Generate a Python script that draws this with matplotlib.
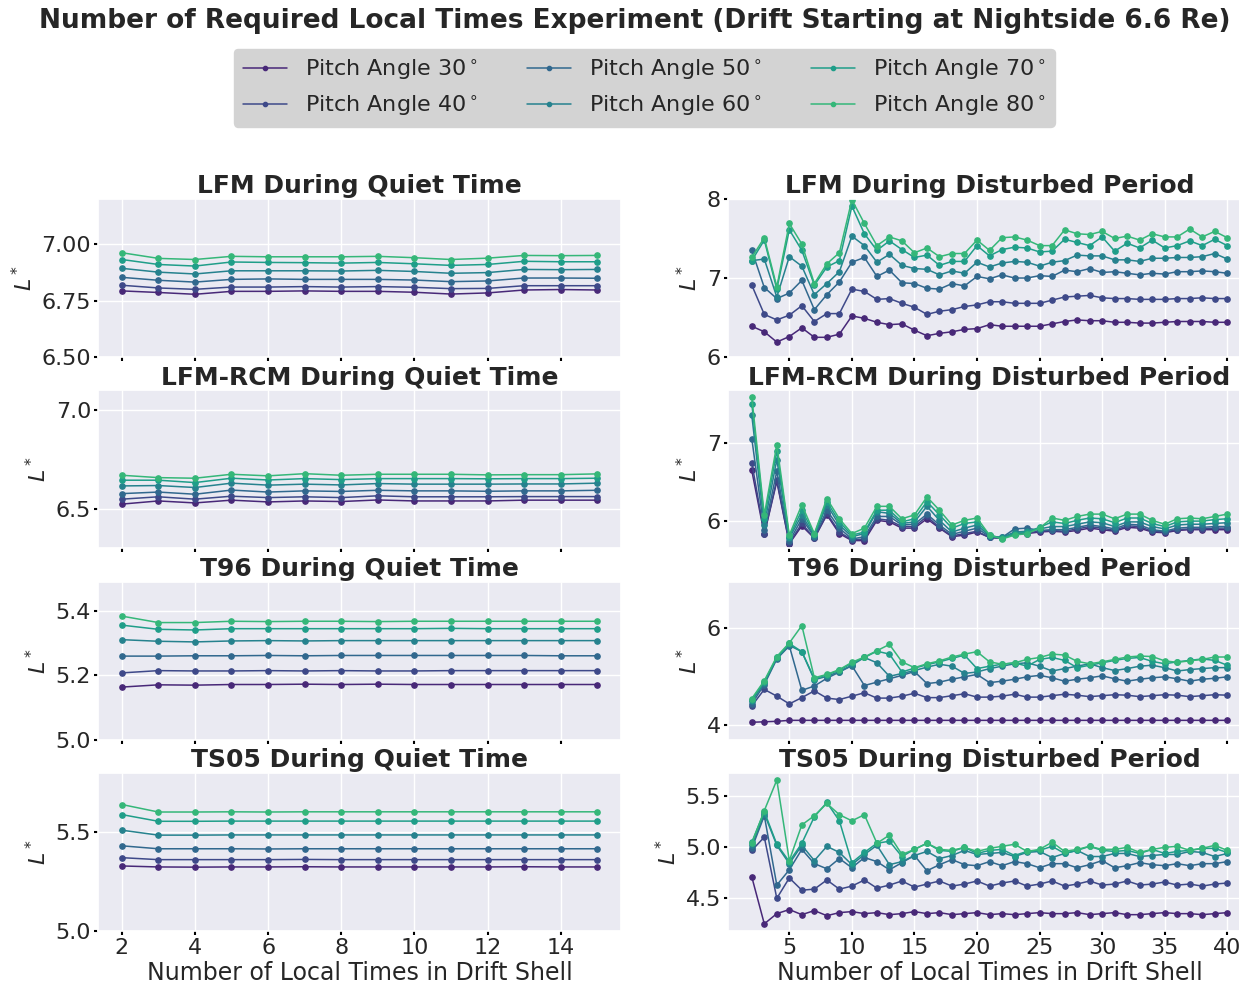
import numpy as np
import matplotlib
matplotlib.use("Agg")
import matplotlib.pyplot as plt
import seaborn as sns

sns.set_theme(style="darkgrid")
plt.rcParams["font.family"] = ["DejaVu Sans"]

pitch_angles = [30, 40, 50, 60, 70, 80]
colors = sns.color_palette("viridis", 8)[:6]

n_quiet = np.arange(2, 16)
n_dist = np.arange(2, 41)

# ---- quiet time, L* per pitch angle (30..80 deg) ----
lfm_quiet = [
    [6.793, 6.786, 6.778, 6.791, 6.791, 6.793, 6.791, 6.791, 6.787, 6.779, 6.784, 6.797, 6.799, 6.797],
    [6.818, 6.806, 6.800, 6.810, 6.810, 6.812, 6.810, 6.812, 6.809, 6.803, 6.804, 6.816, 6.816, 6.816],
    [6.853, 6.840, 6.832, 6.844, 6.846, 6.844, 6.844, 6.844, 6.841, 6.834, 6.837, 6.850, 6.850, 6.849],
    [6.893, 6.876, 6.868, 6.882, 6.882, 6.882, 6.881, 6.884, 6.879, 6.871, 6.874, 6.888, 6.887, 6.888],
    [6.932, 6.910, 6.903, 6.921, 6.919, 6.918, 6.916, 6.919, 6.913, 6.906, 6.910, 6.924, 6.922, 6.922],
    [6.962, 6.937, 6.932, 6.946, 6.944, 6.944, 6.944, 6.946, 6.940, 6.932, 6.938, 6.950, 6.949, 6.950],
]
rcm_quiet = [
    [6.524, 6.540, 6.530, 6.544, 6.535, 6.540, 6.537, 6.545, 6.540, 6.540, 6.540, 6.544, 6.544, 6.544],
    [6.549, 6.561, 6.549, 6.564, 6.557, 6.561, 6.557, 6.566, 6.561, 6.561, 6.561, 6.562, 6.562, 6.562],
    [6.577, 6.585, 6.574, 6.595, 6.585, 6.591, 6.588, 6.594, 6.591, 6.591, 6.589, 6.591, 6.591, 6.594],
    [6.616, 6.618, 6.608, 6.630, 6.620, 6.625, 6.621, 6.628, 6.625, 6.625, 6.625, 6.626, 6.626, 6.630],
    [6.645, 6.645, 6.633, 6.655, 6.646, 6.653, 6.648, 6.653, 6.653, 6.653, 6.652, 6.653, 6.653, 6.655],
    [6.670, 6.658, 6.655, 6.675, 6.667, 6.678, 6.670, 6.675, 6.675, 6.675, 6.672, 6.673, 6.673, 6.677],
]
t96_quiet = [
    [5.163, 5.170, 5.169, 5.171, 5.171, 5.172, 5.171, 5.172, 5.171, 5.171, 5.171, 5.171, 5.171, 5.171],
    [5.207, 5.214, 5.213, 5.213, 5.214, 5.213, 5.214, 5.213, 5.213, 5.214, 5.214, 5.214, 5.214, 5.214],
    [5.259, 5.259, 5.260, 5.260, 5.261, 5.260, 5.261, 5.261, 5.261, 5.261, 5.261, 5.261, 5.260, 5.260],
    [5.310, 5.305, 5.303, 5.306, 5.307, 5.306, 5.307, 5.307, 5.307, 5.307, 5.307, 5.307, 5.307, 5.307],
    [5.355, 5.342, 5.340, 5.344, 5.344, 5.344, 5.344, 5.344, 5.344, 5.345, 5.344, 5.344, 5.344, 5.344],
    [5.383, 5.363, 5.363, 5.367, 5.366, 5.367, 5.367, 5.366, 5.367, 5.367, 5.367, 5.367, 5.367, 5.367],
]
ts05_quiet = [
    [5.329, 5.324, 5.323, 5.324, 5.324, 5.325, 5.324, 5.324, 5.324, 5.324, 5.324, 5.325, 5.324, 5.324],
    [5.371, 5.361, 5.361, 5.361, 5.361, 5.362, 5.361, 5.361, 5.361, 5.361, 5.361, 5.361, 5.361, 5.361],
    [5.431, 5.416, 5.416, 5.416, 5.415, 5.416, 5.416, 5.416, 5.416, 5.416, 5.416, 5.416, 5.416, 5.416],
    [5.510, 5.485, 5.485, 5.486, 5.486, 5.486, 5.486, 5.486, 5.486, 5.486, 5.486, 5.486, 5.486, 5.486],
    [5.589, 5.555, 5.555, 5.556, 5.556, 5.556, 5.556, 5.556, 5.556, 5.556, 5.556, 5.556, 5.556, 5.556],
    [5.640, 5.602, 5.602, 5.603, 5.602, 5.603, 5.603, 5.603, 5.603, 5.603, 5.603, 5.603, 5.603, 5.603],
]

# ---- disturbed period, L* per pitch angle (30..80 deg) ----
lfm_dist = [
    [6.39, 6.32, 6.19, 6.26, 6.37, 6.25, 6.25, 6.29, 6.52, 6.49, 6.44, 6.41, 6.42, 6.34, 6.27, 6.30, 6.32,
     6.35, 6.36, 6.41, 6.39, 6.39, 6.39, 6.39, 6.42, 6.45, 6.47, 6.46, 6.46, 6.44, 6.44, 6.43, 6.43, 6.44,
     6.45, 6.45, 6.45, 6.44, 6.44],
    [6.91, 6.54, 6.47, 6.53, 6.65, 6.45, 6.55, 6.55, 6.86, 6.83, 6.73, 6.74, 6.68, 6.63, 6.54, 6.58, 6.60,
     6.64, 6.66, 6.70, 6.70, 6.68, 6.68, 6.68, 6.72, 6.76, 6.77, 6.78, 6.75, 6.74, 6.74, 6.73, 6.73, 6.73,
     6.74, 6.74, 6.75, 6.74, 6.74],
    [7.35, 6.88, 6.74, 6.81, 6.97, 6.60, 6.79, 6.95, 7.20, 7.26, 7.02, 7.10, 6.94, 6.93, 6.87, 6.86, 6.93,
     6.90, 7.02, 6.99, 7.04, 7.00, 7.00, 7.03, 7.02, 7.10, 7.08, 7.12, 7.07, 7.08, 7.06, 7.04, 7.06, 7.05,
     7.08, 7.08, 7.09, 7.08, 7.06],
    [7.22, 7.24, 6.76, 7.27, 7.15, 6.79, 6.93, 7.08, 7.53, 7.41, 7.20, 7.30, 7.16, 7.12, 7.11, 7.04, 7.09,
     7.06, 7.20, 7.14, 7.19, 7.21, 7.20, 7.15, 7.20, 7.22, 7.29, 7.28, 7.28, 7.23, 7.23, 7.21, 7.25, 7.25,
     7.26, 7.26, 7.27, 7.31, 7.24],
    [7.22, 7.48, 6.86, 7.61, 7.35, 6.91, 7.14, 7.22, 7.91, 7.56, 7.35, 7.47, 7.36, 7.26, 7.29, 7.16, 7.21,
     7.21, 7.41, 7.28, 7.36, 7.39, 7.38, 7.33, 7.34, 7.49, 7.45, 7.41, 7.52, 7.34, 7.44, 7.38, 7.48, 7.38,
     7.41, 7.47, 7.41, 7.49, 7.41],
    [7.26, 7.51, 6.89, 7.69, 7.43, 6.93, 7.18, 7.32, 7.99, 7.69, 7.41, 7.52, 7.47, 7.32, 7.38, 7.27, 7.31,
     7.31, 7.48, 7.35, 7.51, 7.52, 7.48, 7.41, 7.41, 7.61, 7.56, 7.55, 7.59, 7.50, 7.53, 7.48, 7.56, 7.52,
     7.52, 7.62, 7.52, 7.59, 7.51],
]
rcm_dist = [
    [6.65, 5.83, 6.51, 5.71, 5.94, 5.78, 6.08, 5.84, 5.75, 5.75, 6.01, 5.99, 5.91, 5.91, 6.03, 5.91, 5.80,
     5.82, 5.86, 5.79, 5.78, 5.83, 5.84, 5.86, 5.87, 5.86, 5.88, 5.91, 5.89, 5.87, 5.92, 5.91, 5.86, 5.85,
     5.88, 5.89, 5.89, 5.89, 5.89],
    [6.75, 5.84, 6.53, 5.72, 5.97, 5.78, 6.10, 5.86, 5.76, 5.77, 6.03, 6.01, 5.93, 5.93, 6.06, 5.92, 5.81,
     5.84, 5.87, 5.79, 5.78, 5.84, 5.85, 5.87, 5.88, 5.87, 5.90, 5.93, 5.91, 5.88, 5.94, 5.93, 5.87, 5.86,
     5.89, 5.90, 5.90, 5.91, 5.91],
    [7.06, 5.88, 6.64, 5.74, 6.03, 5.80, 6.14, 5.91, 5.77, 5.80, 6.06, 6.06, 5.95, 5.96, 6.09, 5.95, 5.83,
     5.87, 5.91, 5.80, 5.79, 5.90, 5.91, 5.88, 5.89, 5.89, 5.92, 5.95, 5.93, 5.90, 5.96, 5.95, 5.89, 5.87,
     5.91, 5.92, 5.92, 5.93, 5.93],
    [7.36, 5.95, 6.79, 5.78, 6.08, 5.81, 6.21, 5.95, 5.80, 5.84, 6.12, 6.10, 5.97, 5.99, 6.19, 6.01, 5.86,
     5.91, 5.95, 5.81, 5.79, 5.86, 5.87, 5.90, 5.93, 5.93, 5.96, 5.99, 5.98, 5.93, 5.99, 5.99, 5.93, 5.90,
     5.95, 5.96, 5.96, 5.97, 5.98],
    [7.51, 6.03, 6.90, 5.80, 6.14, 5.83, 6.25, 5.99, 5.82, 5.86, 6.14, 6.14, 5.99, 6.03, 6.25, 6.08, 5.91,
     5.97, 5.99, 5.82, 5.78, 5.84, 5.86, 5.92, 5.99, 5.97, 6.01, 6.04, 6.03, 5.98, 6.04, 6.04, 5.97, 5.93,
     5.99, 6.00, 6.00, 6.02, 6.03],
    [7.59, 6.08, 6.98, 5.82, 6.21, 5.84, 6.29, 6.03, 5.84, 5.91, 6.19, 6.19, 6.03, 6.08, 6.31, 6.14, 5.95,
     6.01, 6.04, 5.82, 5.77, 5.82, 5.84, 5.91, 6.04, 6.01, 6.06, 6.09, 6.09, 6.03, 6.09, 6.09, 6.01, 5.96,
     6.03, 6.04, 6.03, 6.06, 6.09],
]
t96_dist = [
    [4.06, 4.07, 4.08, 4.10, 4.10, 4.10, 4.10, 4.10, 4.10, 4.10, 4.10, 4.10, 4.10, 4.10, 4.10, 4.10, 4.10,
     4.10, 4.10, 4.10, 4.10, 4.10, 4.10, 4.10, 4.10, 4.10, 4.10, 4.10, 4.10, 4.10, 4.10, 4.10, 4.10, 4.10,
     4.10, 4.10, 4.10, 4.10, 4.10],
    [4.40, 4.74, 4.60, 4.44, 4.57, 4.71, 4.56, 4.53, 4.60, 4.67, 4.56, 4.56, 4.60, 4.66, 4.57, 4.57, 4.61,
     4.65, 4.58, 4.58, 4.60, 4.64, 4.58, 4.58, 4.61, 4.64, 4.62, 4.59, 4.61, 4.63, 4.62, 4.59, 4.61, 4.63,
     4.62, 4.59, 4.61, 4.63, 4.62],
    [4.44, 4.84, 5.37, 5.64, 4.72, 4.81, 4.97, 5.10, 5.23, 4.82, 4.89, 4.96, 5.03, 5.11, 4.86, 4.89, 4.95,
     5.00, 5.05, 4.88, 4.91, 4.95, 5.00, 5.03, 4.98, 4.91, 4.95, 4.98, 5.02, 4.96, 4.91, 4.95, 4.98, 5.00,
     4.96, 4.91, 4.95, 4.97, 5.00],
    [4.50, 4.87, 5.38, 5.65, 5.52, 4.94, 5.01, 5.11, 5.24, 5.40, 5.29, 5.01, 5.07, 5.13, 5.20, 5.26, 5.22,
     5.07, 5.10, 5.17, 5.22, 5.27, 5.29, 5.22, 5.12, 5.17, 5.22, 5.27, 5.19, 5.13, 5.17, 5.22, 5.24, 5.19,
     5.12, 5.15, 5.17, 5.19, 5.19],
    [4.53, 4.90, 5.40, 5.69, 5.52, 4.96, 5.04, 5.14, 5.28, 5.40, 5.53, 5.47, 5.10, 5.18, 5.25, 5.31, 5.38,
     5.45, 5.17, 5.22, 5.26, 5.29, 5.22, 5.36, 5.40, 5.34, 5.19, 5.24, 5.29, 5.34, 5.38, 5.40, 5.32, 5.27,
     5.31, 5.34, 5.37, 5.34, 5.24],
    [4.55, 4.92, 5.42, 5.70, 6.06, 4.98, 5.05, 5.15, 5.30, 5.41, 5.54, 5.67, 5.31, 5.19, 5.27, 5.33, 5.41,
     5.47, 5.52, 5.31, 5.26, 5.29, 5.36, 5.40, 5.47, 5.45, 5.32, 5.27, 5.31, 5.36, 5.41, 5.43, 5.42, 5.33,
     5.30, 5.33, 5.36, 5.41, 5.41],
]
ts05_dist = [
    [4.71, 4.25, 4.35, 4.39, 4.34, 4.38, 4.33, 4.36, 4.37, 4.35, 4.36, 4.34, 4.35, 4.37, 4.35, 4.36, 4.34,
     4.35, 4.36, 4.34, 4.35, 4.34, 4.35, 4.36, 4.35, 4.35, 4.36, 4.34, 4.35, 4.36, 4.34, 4.34, 4.35, 4.36,
     4.35, 4.35, 4.34, 4.35, 4.36],
    [4.97, 5.10, 4.50, 4.70, 4.58, 4.59, 4.68, 4.59, 4.62, 4.68, 4.60, 4.63, 4.67, 4.61, 4.64, 4.67, 4.62,
     4.64, 4.67, 4.62, 4.65, 4.67, 4.62, 4.64, 4.67, 4.62, 4.64, 4.67, 4.63, 4.64, 4.67, 4.63, 4.64, 4.66,
     4.63, 4.64, 4.62, 4.64, 4.65],
    [4.99, 5.31, 4.63, 4.78, 4.98, 4.84, 4.79, 4.89, 4.80, 4.90, 4.86, 4.78, 4.85, 4.92, 4.77, 4.83, 4.88,
     4.83, 4.82, 4.86, 4.82, 4.86, 4.84, 4.80, 4.84, 4.84, 4.80, 4.83, 4.87, 4.80, 4.82, 4.85, 4.83, 4.82,
     4.84, 4.82, 4.84, 4.84, 4.86],
    [5.02, 5.33, 5.02, 4.84, 5.02, 4.87, 5.01, 4.95, 4.83, 4.93, 5.02, 4.83, 4.86, 4.92, 4.96, 4.89, 4.92,
     4.97, 4.93, 4.94, 4.95, 4.91, 4.95, 4.96, 4.90, 4.94, 4.97, 4.91, 4.91, 4.94, 4.94, 4.91, 4.92, 4.93,
     4.93, 4.96, 4.95, 4.91, 4.94],
    [5.05, 5.35, 5.03, 4.86, 5.04, 5.30, 5.44, 5.26, 4.85, 4.95, 5.04, 5.06, 4.91, 4.98, 5.04, 4.97, 4.96,
     5.00, 4.94, 4.97, 4.98, 4.92, 4.96, 4.97, 5.01, 4.94, 4.97, 5.01, 4.97, 4.96, 4.97, 4.94, 4.98, 4.94,
     4.96, 4.97, 4.99, 4.99, 4.95],
    [5.04, 5.36, 5.66, 4.87, 5.22, 5.31, 5.43, 5.32, 5.26, 5.32, 5.04, 5.12, 4.93, 4.98, 5.04, 4.98, 4.97,
     5.00, 4.96, 4.99, 5.01, 5.03, 4.96, 4.98, 5.05, 4.96, 4.98, 5.01, 4.98, 4.98, 5.00, 4.95, 4.98, 5.00,
     5.01, 4.97, 4.99, 5.02, 4.97],
]

quiet_panels = [
    ("LFM During Quiet Time", lfm_quiet, (6.5, 7.2), [6.50, 6.75, 7.00]),
    ("LFM-RCM During Quiet Time", rcm_quiet, (6.3, 7.1), [6.5, 7.0]),
    ("T96 During Quiet Time", t96_quiet, (5.0, 5.49), [5.0, 5.2, 5.4]),
    ("TS05 During Quiet Time", ts05_quiet, (5.0, 5.8), [5.0, 5.5]),
]
dist_panels = [
    ("LFM During Disturbed Period", lfm_dist, (6.0, 8.0), [6, 7, 8]),
    ("LFM-RCM During Disturbed Period", rcm_dist, (5.65, 7.68), [6, 7]),
    ("T96 During Disturbed Period", t96_dist, (3.7, 6.97), [4, 6]),
    ("TS05 During Disturbed Period", ts05_dist, (4.18, 5.73), [4.5, 5.0, 5.5]),
]

fig, axes = plt.subplots(4, 2, figsize=(12.39, 9.86), dpi=100, sharex="col")
fig.subplots_adjust(left=0.0791, right=1.0097, top=0.7982, bottom=0.0558,
                    hspace=0.21, wspace=0.2046)

for col, (xs, panels) in enumerate([(n_quiet, quiet_panels), (n_dist, dist_panels)]):
    for row, (title, data, ylim, yticks) in enumerate(panels):
        ax = axes[row, col]
        for pa, vals, c in zip(pitch_angles, data, colors):
            ax.plot(xs, vals, color=c, marker="o", markersize=3.8, linewidth=1.1,
                    label=f"Pitch Angle {pa}$^\\circ$")
        ax.set_title(title, fontsize=18, fontweight="bold", pad=4)
        ax.set_ylim(*ylim)
        ax.set_yticks(yticks)
        ax.set_ylabel("$L^*$", fontsize=16)
        ax.tick_params(axis="both", labelsize=16, length=3, width=1.5,
                       color="black", bottom=True, left=True, pad=2)
    axes[3, col].set_xlabel("Number of Local Times in Drift Shell", fontsize=17, labelpad=2)

axes[3, 0].set_xticks([2, 4, 6, 8, 10, 12, 14])
axes[3, 1].set_xticks([5, 10, 15, 20, 25, 30, 35, 40])

handles, labels = axes[0, 0].get_legend_handles_labels()
fig.legend(handles, labels, loc="upper center", bbox_to_anchor=(0.52, 0.962),
           ncol=3, fontsize=16, facecolor="lightgray", framealpha=1,
           edgecolor="lightgray", markerscale=0.8, columnspacing=2.2)

fig.suptitle("Number of Required Local Times Experiment (Drift Starting at Nightside 6.6 Re)",
             x=0.512, y=0.992, fontsize=19, fontweight="bold")

fig.savefig("out.png", dpi=100)
